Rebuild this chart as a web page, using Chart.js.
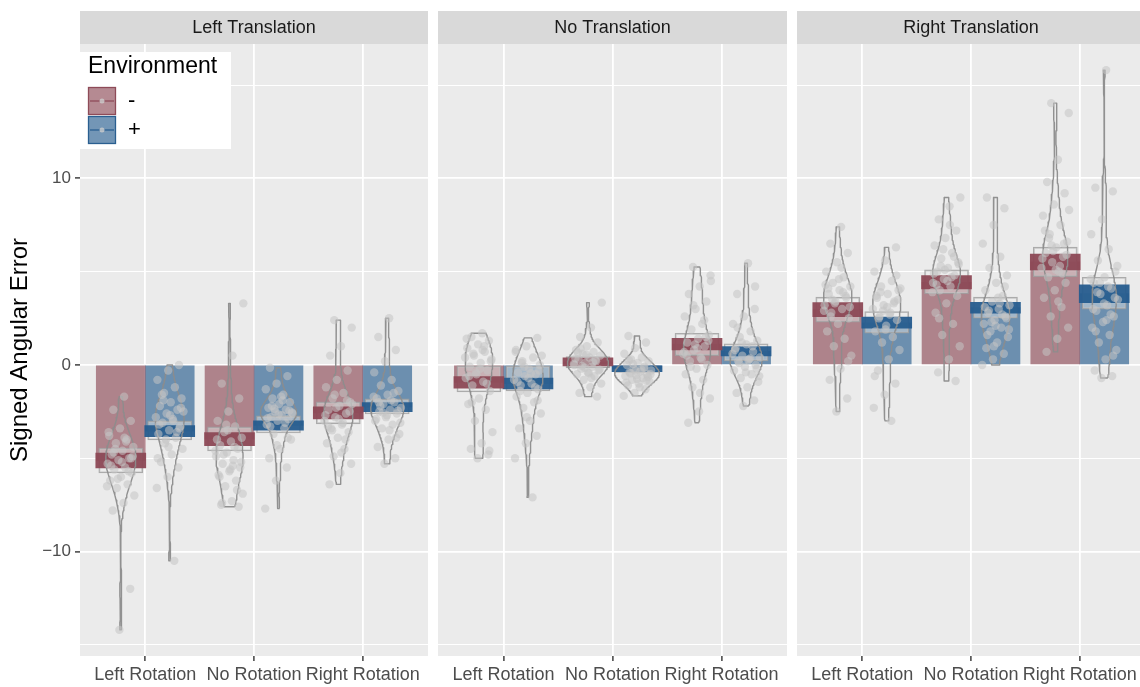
<!DOCTYPE html>
<html>
<head>
<meta charset="utf-8">
<script src="https://cdn.jsdelivr.net/npm/chart.js@4/dist/chart.umd.min.js"></script>
<style>
  html, body { margin: 0; padding: 0; background: #ffffff; width: 1140px; height: 687px; overflow: hidden; position: relative; }
  .facet { position: absolute; top: 0; height: 687px; }
</style>
</head>
<body>
<div class="facet" style="left:0px;width:428px"><canvas id="facet0"></canvas></div>
<div class="facet" style="left:438px;width:349px"><canvas id="facet1"></canvas></div>
<div class="facet" style="left:797px;width:348px"><canvas id="facet2"></canvas></div>
<script>
// ---- data ---------------------------------------------------------------
const facetTitles = ['Left Translation', 'No Translation', 'Right Translation'];
const rotationLabels = ['Left Rotation', 'No Rotation', 'Right Rotation'];
const envLabels = ['-', '+'];
const envTitle = 'Environment';
const yTitle = 'Signed Angular Error';
const yTickValues = [-15, -10, -5, 0, 5, 10, 15];
const yLabelledTicks = [-10, 0, 10];

// group means (bar heights), [translation][rotation]
const meanMinus = [[-5.12, -3.98, -2.57], [-0.94, 0.16, 1.12], [2.97, 4.43, 5.52]];
const meanPlus  = [[-3.55, -3.24, -2.26], [-1.00, -0.20, 0.73], [2.26, 3.07, 3.82]];

// dark inference band [low, high]
const bandMinus = [[[-5.52, -4.72], [-4.33, -3.63], [-2.90, -2.24]],
                   [[-1.25, -0.63], [-0.05, 0.38], [0.80, 1.43]],
                   [[2.59, 3.34], [4.08, 4.79], [5.09, 5.94]]];
const bandPlus  = [[[-3.84, -3.25], [-3.49, -2.99], [-2.50, -2.02]],
                   [[-1.29, -0.70], [-0.36, -0.05], [0.48, 0.98]],
                   [[1.97, 2.56], [2.77, 3.36], [3.34, 4.29]]];

// light outer interval box [low, high]
const boxMinus = [[[-5.79, -4.45], [-4.61, -3.32], [-3.16, -1.98]],
                  [[-1.45, -0.05], [-0.16, 0.45], [0.50, 1.70]],
                  [[2.29, 3.63], [3.81, 5.09], [4.73, 6.31]]];
const boxPlus  = [[[-4.02, -3.00], [-3.65, -2.73], [-2.63, -1.82]],
                  [[-1.39, -0.05], [-0.40, 0.00], [0.21, 1.13]],
                  [[1.70, 2.86], [2.50, 3.63], [2.99, 4.70]]];

// individual errors, Environment "-"
const ptsLeftMinus = [
  [-1.7, -2.4, -3.0, -3.4, -3.8, -4.0, -4.2, -4.4, -4.6, -4.8, -5.0, -5.1, -5.3, -5.5, -5.6, -5.8, -6.0, -6.2, -6.4, -6.6, -7.0, -7.4, -7.8, -12.0, -14.2,
   -3.6, -4.1, -4.5, -4.9, -5.2, -5.4, -5.7, -6.1, -6.5, -3.9, -4.7, -5.0],
  [3.3, 0.5, -1.0, -1.8, -2.5, -3.0, -3.3, -3.6, -3.9, -4.1, -4.3, -4.5, -4.7, -4.9, -5.1, -5.3, -5.5, -5.7, -5.9, -6.2, -6.5, -6.9, -7.3, -7.5, -7.6,
   -3.5, -4.0, -4.4, -4.8, -5.2, -5.6, -6.0, -6.7, -3.2, -4.6, -5.4, -7.4],
  [2.4, 2.0, 1.0, 0.5, -0.3, -0.8, -1.2, -1.5, -1.8, -2.0, -2.2, -2.4, -2.6, -2.8, -3.0, -3.2, -3.4, -3.6, -3.9, -4.2, -4.5, -4.9, -5.3, -5.8, -6.4,
   -1.9, -2.3, -2.7, -3.1, -3.5, -2.5, -2.9, -3.3, -4.0, -1.6, -2.1, -4.7]
];
const ptsNoMinus = [
  [1.7, 1.5, 1.3, 1.1, 0.9, 0.7, 0.5, 0.3, 0.1, -0.1, -0.3, -0.5, -0.7, -0.9, -1.1, -1.4, -1.8, -2.1, -2.4, -3.0, -3.6, -4.2, -4.5, -4.8, -5.0,
   1.4, 1.0, 0.6, 0.2, -0.2, -0.6, -1.0, -0.4, 0.4, 0.8, -2.0, -4.6],
  [3.34, 2.0, 1.5, 1.2, 1.0, 0.8, 0.7, 0.6, 0.5, 0.4, 0.3, 0.2, 0.1, 0.0, -0.1, -0.2, -0.3, -0.4, -0.5, -0.6, -0.8, -1.0, -1.2, -1.5, -1.7,
   0.55, 0.35, 0.15, -0.05, -0.25, -0.45, 0.65, 0.25, -0.15, 0.05, -0.7, 0.9],
  [5.25, 4.8, 4.2, 3.8, 3.4, 3.0, 2.6, 2.2, 1.9, 1.6, 1.4, 1.2, 1.0, 0.8, 0.6, 0.4, 0.2, 0.0, -0.2, -0.5, -0.8, -1.2, -1.8, -2.5, -3.1,
   1.5, 1.1, 0.7, 0.3, -0.1, 1.3, 0.9, 0.5, 2.4, 3.2, 4.5, -1.5]
];
const ptsRightMinus = [
  [7.4, 6.5, 6.0, 5.5, 5.0, 4.7, 4.4, 4.2, 4.0, 3.8, 3.6, 3.4, 3.2, 3.0, 2.8, 2.5, 2.2, 1.8, 1.4, 1.0, 0.5, -0.2, -0.8, -1.8, -2.5,
   4.3, 3.9, 3.5, 3.1, 4.6, 4.1, 3.7, 3.3, 2.9, 5.2, 2.6, 0.2],
  [8.97, 8.5, 7.8, 7.2, 6.8, 6.4, 6.0, 5.7, 5.4, 5.2, 5.0, 4.8, 4.6, 4.4, 4.2, 4.0, 3.7, 3.3, 2.8, 2.2, 1.6, 1.0, 0.3, -0.4, -0.86,
   5.1, 4.9, 4.7, 5.3, 5.5, 4.5, 4.3, 5.8, 6.2, 3.9, 7.5, 2.5],
  [14.03, 13.5, 11.0, 9.8, 9.2, 8.6, 8.0, 7.5, 7.0, 6.6, 6.3, 6.0, 5.8, 5.5, 5.2, 5.0, 4.7, 4.4, 4.0, 3.6, 3.1, 2.6, 2.0, 1.4, 0.7,
   6.5, 6.1, 5.7, 5.3, 6.8, 5.9, 5.1, 7.2, 4.9, 6.4, 8.3, 3.4]
];
// individual errors, Environment "+"
const ptsLeftPlus = [
  [0.0, -0.3, -0.8, -1.2, -1.5, -1.8, -2.0, -2.2, -2.4, -2.6, -2.8, -3.0, -3.1, -3.3, -3.5, -3.7, -3.9, -4.2, -4.5, -4.8, -5.2, -5.5, -6.0, -6.6, -10.5,
   -1.9, -2.3, -2.7, -3.2, -3.6, -4.0, -2.5, -2.9, -1.6, -3.4, -4.4, -5.0],
  [-0.15, -0.6, -1.0, -1.3, -1.6, -1.8, -2.0, -2.1, -2.3, -2.4, -2.5, -2.6, -2.7, -2.8, -2.9, -3.0, -3.2, -3.4, -3.7, -4.0, -4.5, -5.0, -5.5, -6.2, -7.7,
   -1.9, -2.2, -2.45, -2.65, -2.85, -3.1, -2.35, -2.55, -1.7, -3.3, -3.9, -4.3],
  [2.5, 1.5, 0.8, 0.2, -0.4, -0.8, -1.1, -1.4, -1.6, -1.8, -2.0, -2.1, -2.3, -2.4, -2.5, -2.6, -2.8, -3.0, -3.2, -3.4, -3.7, -4.0, -4.4, -5.0, -5.3,
   -1.7, -1.9, -2.2, -2.45, -2.7, -2.9, -1.5, -2.55, -3.1, -3.5, -2.0, -3.9]
];
const ptsNoPlus = [
  [1.45, 1.0, 0.7, 0.4, 0.2, 0.0, -0.2, -0.4, -0.5, -0.6, -0.8, -1.0, -1.1, -1.3, -1.5, -1.7, -2.0, -2.3, -2.6, -3.0, -3.4, -3.8, -4.2, -5.0, -7.1,
   0.1, -0.3, -0.7, -0.9, -1.2, -0.1, 0.5, -0.45, -1.4, -1.9, -2.8, 0.8],
  [1.55, 1.2, 0.9, 0.6, 0.4, 0.3, 0.2, 0.1, 0.0, -0.1, -0.2, -0.3, -0.35, -0.4, -0.5, -0.55, -0.6, -0.7, -0.8, -0.9, -1.0, -1.1, -1.3, -1.5, -1.66,
   -0.25, -0.45, -0.65, -0.75, -0.95, -0.15, 0.05, -0.5, -1.2, 0.25, -0.85, -0.3],
  [5.45, 3.8, 3.0, 2.6, 2.2, 1.8, 1.5, 1.3, 1.1, 0.9, 0.7, 0.5, 0.4, 0.3, 0.2, 0.0, -0.1, -0.3, -0.5, -0.7, -0.9, -1.2, -1.5, -1.9, -2.2,
   0.6, 0.35, 0.1, -0.2, -0.4, 0.8, 1.0, 1.2, -0.6, 0.25, 2.0, 4.2]
];
const ptsRightPlus = [
  [6.3, 5.6, 5.0, 4.5, 4.2, 4.0, 3.8, 3.6, 3.4, 3.2, 3.0, 2.8, 2.6, 2.4, 2.1, 1.8, 1.5, 1.2, 0.8, 0.3, -0.3, -1.0, -1.6, -2.3, -3.0,
   3.9, 3.5, 3.1, 3.7, 3.3, 2.9, 4.1, 2.7, 2.5, 4.8, 1.9, -0.6],
  [8.97, 8.4, 7.5, 6.5, 5.8, 5.2, 4.8, 4.4, 4.0, 3.7, 3.4, 3.2, 3.0, 2.8, 2.6, 2.4, 2.2, 2.0, 1.8, 1.5, 1.2, 0.9, 0.6, 0.3, 0.0,
   3.3, 2.9, 2.5, 2.1, 3.1, 2.7, 2.3, 1.9, 3.6, 1.6, 4.2, 1.0],
  [15.8, 9.5, 9.3, 7.8, 7.0, 6.2, 5.6, 5.0, 4.7, 4.4, 4.1, 3.8, 3.5, 3.2, 2.9, 2.6, 2.3, 2.0, 1.6, 1.2, 0.8, 0.3, -0.3, -0.6, -0.7,
   4.6, 4.2, 3.9, 3.6, 3.3, 3.0, 2.7, 4.4, 5.3, 2.4, 1.8, 0.5]
];

// ---- styling ------------------------------------------------------------
const FONT = "'Liberation Sans', Arial, Helvetica, sans-serif";
const Y_MIN = -15.6, Y_MAX = 17.2;
const X_MIN = 0.4, X_MAX = 3.6;
const DODGE = 0.225;               // half of the dodge width, in category units
const VIOLIN_MAX_WIDTH = 0.41;     // widest bean, in category units
const VIOLIN_AREA_WEIGHT = 0.5;    // 0 = every bean same width, 1 = equal-area beans
const JITTER_WIDTH = 0.26;
const barFill  = ['rgba(142,75,88,0.65)', 'rgba(40,93,143,0.65)'];
const bandFill = ['rgba(140,72,85,0.95)', 'rgba(38,92,142,0.95)'];
const panelBg = '#ebebeb';
const stripBg = '#d9d9d9';

Chart.defaults.font.family = FONT;
Chart.defaults.animation = false;

const means  = [meanMinus, meanPlus];
const bands  = [bandMinus, bandPlus];
const boxes  = [boxMinus, boxPlus];
const points = [[ptsLeftMinus, ptsNoMinus, ptsRightMinus], [ptsLeftPlus, ptsNoPlus, ptsRightPlus]];

function groupX(r, e) { return r + 1 + (e === 0 ? -DODGE : DODGE); }

// ---- kernel density (Gaussian, Silverman bandwidth), trimmed to data range
function quantile(sorted, p) {
  const h = (sorted.length - 1) * p, lo = Math.floor(h), hi = Math.ceil(h);
  return sorted[lo] + (sorted[hi] - sorted[lo]) * (h - lo);
}
function bandwidth(v) {
  const n = v.length, m = v.reduce((a, b) => a + b, 0) / n;
  const sd = Math.sqrt(v.reduce((a, b) => a + (b - m) * (b - m), 0) / (n - 1));
  const s = [...v].sort((a, b) => a - b);
  const iqr = (quantile(s, 0.75) - quantile(s, 0.25)) / 1.34;
  let lo = Math.min(sd, iqr);
  if (!(lo > 0)) lo = sd || 1;
  return 0.9 * lo * Math.pow(n, -0.2);
}
function density(v) {
  const h = bandwidth(v), n = v.length;
  const lo = Math.min(...v), hi = Math.max(...v);
  const steps = 90, ys = [], ds = [];
  for (let k = 0; k <= steps; k++) {
    const y = lo + (hi - lo) * k / steps;
    let s = 0;
    for (const x of v) { const z = (y - x) / h; s += Math.exp(-0.5 * z * z); }
    ys.push(y); ds.push(s / (n * h * Math.sqrt(2 * Math.PI)));
  }
  return { ys, ds, peak: Math.max(...ds) };
}
const densities = points.map(env => env.map(fac => fac.map(density)));
let densityMax = 0;
densities.forEach(env => env.forEach(fac => fac.forEach(d => { densityMax = Math.max(densityMax, d.peak); })));

function violinOutline(d, cx) {
  const widest = (VIOLIN_MAX_WIDTH / 2) * Math.pow(d.peak / densityMax, VIOLIN_AREA_WEIGHT);
  const k0 = widest / d.peak;
  const out = [];
  for (let k = 0; k < d.ys.length; k++) out.push({ x: cx + d.ds[k] * k0, y: d.ys[k] });
  for (let k = d.ys.length - 1; k >= 0; k--) out.push({ x: cx - d.ds[k] * k0, y: d.ys[k] });
  out.push(out[0]);
  return out;
}
function jitter(i, r, e) {
  const u = ((i + 1) * 0.6180339887 + r * 0.37 + e * 0.21) % 1;
  return (u - 0.5) * JITTER_WIDTH;
}

// ---- plugins --------------------------------------------------------------
const facetFrame = {
  id: 'facetFrame',
  beforeDraw(chart, args, opts) {
    const { ctx, chartArea: a } = chart;
    ctx.save();
    ctx.fillStyle = panelBg;
    ctx.fillRect(a.left, a.top, a.right - a.left, a.bottom - a.top);
    ctx.fillStyle = stripBg;
    ctx.fillRect(a.left, 11, a.right - a.left, a.top - 11);
    ctx.fillStyle = '#1a1a1a';
    ctx.font = '18px ' + FONT;
    ctx.textAlign = 'center';
    ctx.textBaseline = 'middle';
    ctx.fillText(opts.title, (a.left + a.right) / 2, (11 + a.top) / 2 + 1);
    ctx.restore();
  }
};

const envLegend = {
  id: 'envLegend',
  afterDraw(chart, args, opts) {
    if (!opts.show) return;
    const { ctx, chartArea: a } = chart;
    const x0 = a.left, y0 = a.top + 8;
    ctx.save();
    ctx.fillStyle = '#ffffff';
    ctx.fillRect(x0, y0, 151, 97);
    ctx.fillStyle = '#000000';
    ctx.font = '23px ' + FONT;
    ctx.textBaseline = 'alphabetic';
    ctx.textAlign = 'left';
    ctx.fillText(envTitle, x0 + 8, y0 + 21);
    envLabels.forEach((lab, e) => {
      const ky = y0 + 35 + e * 29, kx = x0 + 8, ks = 28;
      ctx.fillStyle = barFill[e];
      ctx.fillRect(kx, ky, ks, ks);
      ctx.strokeStyle = bandFill[e];
      ctx.lineWidth = 1.3;
      ctx.strokeRect(kx + 0.5, ky + 0.5, ks - 1, ks - 1);
      ctx.beginPath();
      ctx.moveTo(kx + 2, ky + ks / 2);
      ctx.lineTo(kx + ks - 2, ky + ks / 2);
      ctx.stroke();
      ctx.fillStyle = 'rgba(205,205,205,0.8)';
      ctx.beginPath();
      ctx.arc(kx + ks / 2, ky + ks / 2, 2.5, 0, Math.PI * 2);
      ctx.fill();
      ctx.fillStyle = '#000000';
      ctx.font = '22px ' + FONT;
      ctx.textBaseline = 'middle';
      ctx.fillText(lab, x0 + 48, ky + ks / 2);
    });
    ctx.restore();
  }
};

// ---- charts ---------------------------------------------------------------
function buildFacet(f) {
  const datasets = [];
  for (let e = 0; e < 2; e++) {
    const xs = rotationLabels.map((_, r) => groupX(r, e));
    datasets.push({
      type: 'bar', label: envLabels[e] + ' mean', order: 6,
      data: xs.map((x, r) => ({ x, y: means[e][f][r] })),
      backgroundColor: barFill[e], borderWidth: 0, barThickness: 49, grouped: false
    });
    datasets.push({
      type: 'bar', label: envLabels[e] + ' interval', order: 5,
      data: xs.map((x, r) => ({ x, y: boxes[e][f][r] })),
      backgroundColor: 'rgba(238,238,238,0.42)', borderColor: 'rgba(160,160,160,0.85)',
      borderWidth: 1.2, borderSkipped: false, barThickness: 44, grouped: false
    });
    datasets.push({
      type: 'bar', label: envLabels[e] + ' band', order: 4,
      data: xs.map((x, r) => ({ x, y: bands[e][f][r] })),
      backgroundColor: bandFill[e], borderWidth: 0, borderSkipped: false, barThickness: 50, grouped: false
    });
    xs.forEach((x, r) => {
      datasets.push({
        type: 'line', label: envLabels[e] + ' bean', order: 3,
        data: violinOutline(densities[e][f][r], x),
        borderColor: 'rgba(140,140,140,0.95)', borderWidth: 1.4, pointRadius: 0,
        fill: false, tension: 0, borderJoinStyle: 'round'
      });
    });
    const pts = [];
    xs.forEach((x, r) => points[e][f][r].forEach((v, i) => pts.push({ x: x + jitter(i, r, e), y: v })));
    datasets.push({
      type: 'scatter', label: envLabels[e] + ' points', order: 2,
      data: pts, pointRadius: 4.2, pointBackgroundColor: 'rgba(196,196,196,0.55)',
      pointBorderWidth: 0, borderWidth: 0
    });
  }

  const first = f === 0;
  return new Chart(document.getElementById('facet' + f), {
    type: 'bar',
    data: { datasets },
    options: {
      responsive: true,
      maintainAspectRatio: false,
      events: [],
      layout: { padding: { top: 44, left: 0, right: 0, bottom: 0 }, autoPadding: false },
      plugins: {
        legend: { display: false },
        tooltip: { enabled: false },
        facetFrame: { title: facetTitles[f] },
        envLegend: { show: first }
      },
      scales: {
        x: {
          type: 'linear', min: X_MIN, max: X_MAX, offset: false,
          afterBuildTicks: s => { s.ticks = rotationLabels.map((_, r) => ({ value: r + 1 })); },
          afterFit: s => { s.height = 31; },
          border: { display: false },
          grid: { color: '#ffffff', lineWidth: 1.8, drawTicks: true, tickLength: 5, tickColor: '#333333', tickWidth: 1.4, offset: false },
          ticks: {
            autoSkip: false, maxRotation: 0, minRotation: 0, padding: 3,
            color: '#4d4d4d', font: { size: 18 },
            callback: v => rotationLabels[Math.round(v) - 1]
          }
        },
        y: {
          type: 'linear', min: Y_MIN, max: Y_MAX,
          afterBuildTicks: s => { s.ticks = yTickValues.map(v => ({ value: v })); },
          afterFit: s => { s.width = first ? 80 : 0; },
          border: { display: false },
          grid: {
            color: '#ffffff',
            lineWidth: c => (c.tick && yLabelledTicks.includes(c.tick.value)) ? 1.8 : 1.0,
            drawTicks: first, tickLength: 5, tickWidth: 1.4,
            tickColor: c => (c.tick && yLabelledTicks.includes(c.tick.value)) ? '#333333' : 'rgba(0,0,0,0)'
          },
          ticks: {
            display: first, autoSkip: false, padding: 4, color: '#4d4d4d', font: { size: 17 },
            callback: v => yLabelledTicks.includes(v) ? (v < 0 ? '\u2212' + Math.abs(v) : String(v)) : ''
          },
          title: {
            display: first, text: yTitle, color: '#000000',
            font: { size: 24 }, padding: { top: 6, bottom: 0 }
          }
        }
      }
    },
    plugins: [facetFrame, envLegend]
  });
}

[0, 1, 2].forEach(buildFacet);
</script>
</body>
</html>
